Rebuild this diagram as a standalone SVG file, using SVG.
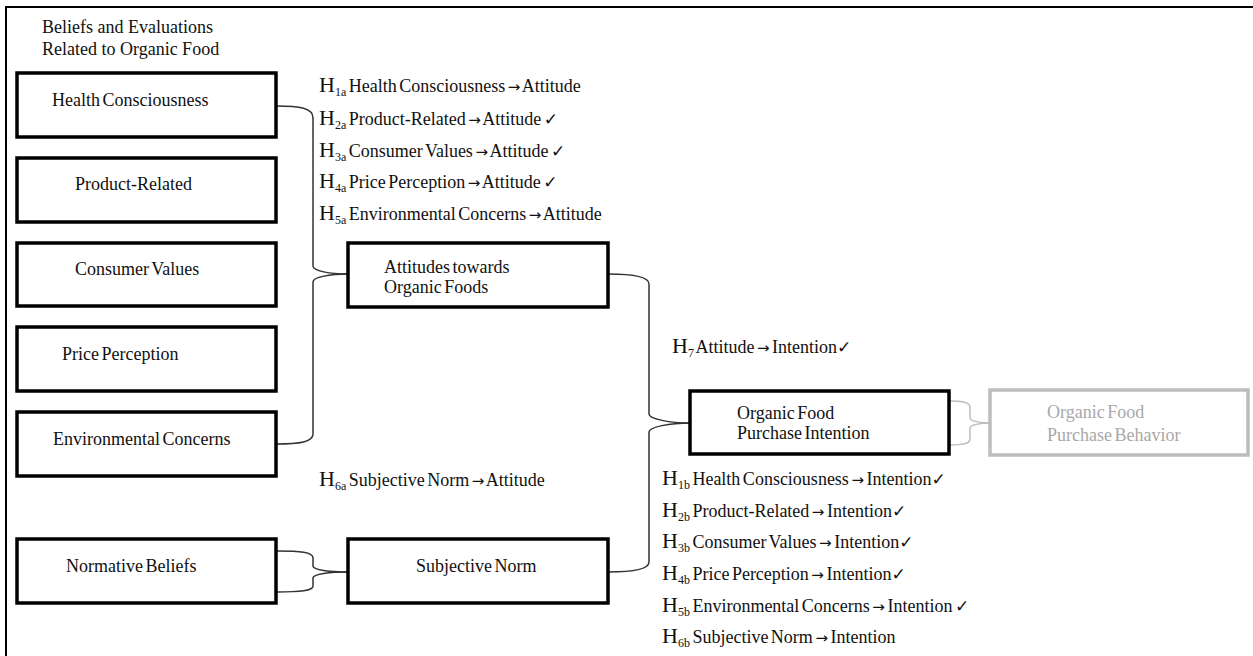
<svg xmlns="http://www.w3.org/2000/svg" width="1253" height="656" viewBox="0 0 1253 656" font-family="'Liberation Serif', 'Times New Roman', Times, 'DejaVu Serif', serif">
<style>
text{font-family:'Liberation Serif','Times New Roman',Times,'DejaVu Serif',serif;font-size:18px;fill:#111;word-spacing:-2px}
.title{word-spacing:0}
.box{fill:#fff;stroke:#000;stroke-width:3.5}
.gbox{fill:#fff;stroke:#bdbdbd;stroke-width:3.5}
.gt{fill:#a8a8a8}
.con{fill:none;stroke:#333;stroke-width:1.5}
.gcon{fill:none;stroke:#bdbdbd;stroke-width:1.5}
.H{font-size:22px}
.sub{font-size:12px}
.ar{font-family:'DejaVu Sans',sans-serif;font-size:15px}
.ck{font-family:'DejaVu Sans',sans-serif;font-size:17px}
</style>
<rect width="1253" height="656" fill="#fff"/>
<path d="M6,656 V7 H1253" fill="none" stroke="#000" stroke-width="2"/>
<text class="title" x="42" y="33">Beliefs and Evaluations</text>
<text class="title" x="42" y="55">Related to Organic Food</text>

<g id="connectors">
<path class="con" d="M276,106 C300,106 313,108 313,118 L313,266 C313,271 330,274 348,274"/>
<path class="con" d="M276,444 C300,444 313,442 313,434 L313,282 C313,277 330,274 348,274"/>
<path class="con" d="M608,274 C630,274 649,276 649,284 L649,414 C649,419 670,423 690,423"/>
<path class="con" d="M608,572 C630,572 649,570 649,562 L649,432 C649,427 670,423 690,423"/>
<path class="con" d="M277,551 C300,551 313,552 313,558 L313,566 C313,570 330,572 348,572"/>
<path class="con" d="M277,592 C300,592 313,591 313,586 L313,578 C313,574 330,572 348,572"/>
<path class="gcon" d="M950,401 C962,401 970,402 970,407 L970,418 C970,421 980,423 990,423"/>
<path class="gcon" d="M950,445 C962,445 970,444 970,439 L970,428 C970,425 980,423 990,423"/>
</g>

<g id="n-health"><rect class="box" x="17" y="73" width="259" height="64"/><text x="52" y="106">Health Consciousness</text></g>
<g id="n-product"><rect class="box" x="17" y="158" width="259" height="64"/><text x="75" y="190">Product-Related</text></g>
<g id="n-values"><rect class="box" x="17" y="243" width="259" height="63"/><text x="75" y="275">Consumer Values</text></g>
<g id="n-price"><rect class="box" x="17" y="327" width="259" height="64"/><text x="62" y="360">Price Perception</text></g>
<g id="n-env"><rect class="box" x="17" y="412" width="259" height="64"/><text x="53" y="445">Environmental Concerns</text></g>
<g id="n-normative"><rect class="box" x="17" y="539" width="259" height="64"/><text x="66" y="572">Normative Beliefs</text></g>
<g id="n-attitude"><rect class="box" x="348" y="243" width="260" height="64"/><text x="384" y="273">Attitudes towards</text><text x="384" y="293">Organic Foods</text></g>
<g id="n-subjective"><rect class="box" x="348" y="539" width="260" height="64"/><text x="416" y="572">Subjective Norm</text></g>
<g id="n-intention"><rect class="box" x="690" y="391" width="259" height="63"/><text x="737" y="419">Organic Food</text><text x="737" y="439">Purchase Intention</text></g>
<g id="n-behavior"><rect class="gbox" x="990" y="390" width="258" height="65"/><text class="gt" x="1047" y="418">Organic Food</text><text class="gt" x="1047" y="441">Purchase Behavior</text></g>

<g id="hypotheses">
<text x="319" y="92"><tspan class="H">H</tspan><tspan class="sub" dy="4">1a</tspan><tspan dy="-4"> Health Consciousness </tspan><tspan class="ar">→</tspan><tspan> Attitude</tspan></text>
<text x="319" y="125"><tspan class="H">H</tspan><tspan class="sub" dy="4">2a</tspan><tspan dy="-4"> Product-Related </tspan><tspan class="ar">→</tspan><tspan> Attitude </tspan><tspan class="ck">✓</tspan></text>
<text x="319" y="157"><tspan class="H">H</tspan><tspan class="sub" dy="4">3a</tspan><tspan dy="-4"> Consumer Values </tspan><tspan class="ar">→</tspan><tspan> Attitude </tspan><tspan class="ck">✓</tspan></text>
<text x="319" y="188"><tspan class="H">H</tspan><tspan class="sub" dy="4">4a</tspan><tspan dy="-4"> Price Perception </tspan><tspan class="ar">→</tspan><tspan> Attitude </tspan><tspan class="ck">✓</tspan></text>
<text x="319" y="220"><tspan class="H">H</tspan><tspan class="sub" dy="4">5a</tspan><tspan dy="-4"> Environmental Concerns </tspan><tspan class="ar">→</tspan><tspan> Attitude</tspan></text>
<text x="319" y="486"><tspan class="H">H</tspan><tspan class="sub" dy="4">6a</tspan><tspan dy="-4"> Subjective Norm </tspan><tspan class="ar">→</tspan><tspan> Attitude</tspan></text>
<text x="672" y="353"><tspan class="H">H</tspan><tspan class="sub" dy="4">7</tspan><tspan dy="-4"> Attitude </tspan><tspan class="ar">→</tspan><tspan> Intention</tspan><tspan class="ck">✓</tspan></text>
<text x="662" y="485"><tspan class="H">H</tspan><tspan class="sub" dy="4">1b</tspan><tspan dy="-4"> Health Consciousness </tspan><tspan class="ar">→</tspan><tspan> Intention</tspan><tspan class="ck">✓</tspan></text>
<text x="662" y="517"><tspan class="H">H</tspan><tspan class="sub" dy="4">2b</tspan><tspan dy="-4"> Product-Related </tspan><tspan class="ar">→</tspan><tspan> Intention</tspan><tspan class="ck">✓</tspan></text>
<text x="662" y="548"><tspan class="H">H</tspan><tspan class="sub" dy="4">3b</tspan><tspan dy="-4"> Consumer Values </tspan><tspan class="ar">→</tspan><tspan> Intention</tspan><tspan class="ck">✓</tspan></text>
<text x="662" y="580"><tspan class="H">H</tspan><tspan class="sub" dy="4">4b</tspan><tspan dy="-4"> Price  Perception </tspan><tspan class="ar">→</tspan><tspan> Intention</tspan><tspan class="ck">✓</tspan></text>
<text x="662" y="612"><tspan class="H">H</tspan><tspan class="sub" dy="4">5b</tspan><tspan dy="-4"> Environmental Concerns </tspan><tspan class="ar">→</tspan><tspan> Intention </tspan><tspan class="ck">✓</tspan></text>
<text x="662" y="643"><tspan class="H">H</tspan><tspan class="sub" dy="4">6b</tspan><tspan dy="-4"> Subjective Norm </tspan><tspan class="ar">→</tspan><tspan> Intention</tspan></text>
</g>
</svg>
